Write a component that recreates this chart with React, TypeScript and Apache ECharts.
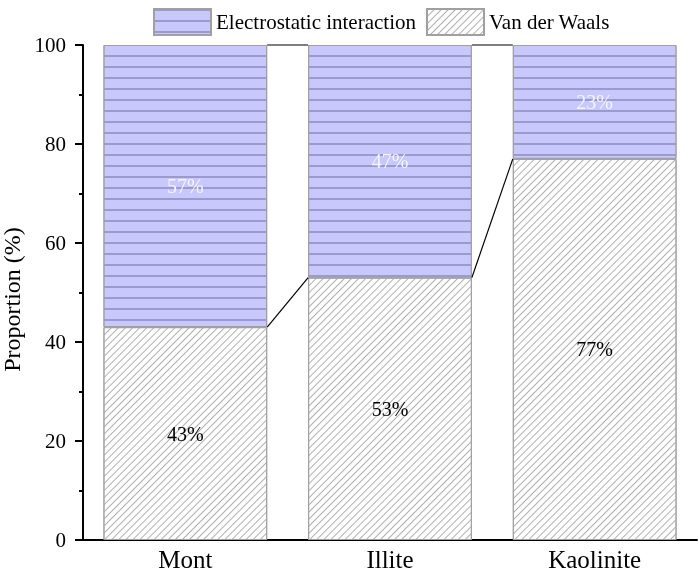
import React, { useEffect, useRef } from "react";
import * as echarts from "echarts";

const categories = ["Mont", "Illite", "Kaolinite"];
const vanDerWaals = [43, 53, 77];
const electrostatic = [57, 47, 23];
const seriesNames = ["Electrostatic interaction", "Van der Waals"];

const FONT = "'Liberation Serif', 'Times New Roman', serif";

export default function App() {
  const ref = useRef<HTMLDivElement>(null);
  useEffect(() => {
    document.body.style.margin = "0";
    const chart = echarts.init(ref.current!, null, { renderer: "svg" });
    const totals = vanDerWaals.map((v, i) => v + electrostatic[i]);
    const levels = [vanDerWaals, totals];
    const connectData: number[][] = [];
    levels.forEach((lv) => {
      for (let i = 0; i < lv.length - 1; i++) connectData.push([i, lv[i], lv[i + 1]]);
    });
    const option: any = {
      animation: false,
      textStyle: { fontFamily: FONT },
      grid: { left: 83, right: 2, top: 45, bottom: 33, outerBoundsMode: "none", containLabel: false },
      legend: {
        data: seriesNames,
        left: 148,
        top: 3,
        icon: "rect",
        itemWidth: 57,
        itemHeight: 26,
        itemGap: 10,
        textStyle: { fontFamily: FONT, fontSize: 21, color: "#000" },
      },
      xAxis: {
        type: "category",
        data: categories,
        axisLine: { lineStyle: { color: "#000", width: 2 } },
        axisTick: { show: false },
        axisLabel: { fontFamily: FONT, fontSize: 25, color: "#000", margin: 7 },
      },
      yAxis: {
        type: "value",
        min: 0,
        max: 100,
        interval: 20,
        name: "Proportion (%)",
        nameLocation: "middle",
        nameGap: 54,
        nameTextStyle: { fontFamily: FONT, fontSize: 24, color: "#000", padding: [0, 14, 0, 0] },
        axisLine: { show: true, lineStyle: { color: "#000", width: 2 } },
        axisTick: { show: true, length: 8, lineStyle: { color: "#000", width: 2 } },
        minorTick: { show: true, splitNumber: 2, length: 4, lineStyle: { color: "#000", width: 2 } },
        splitLine: { show: false },
        axisLabel: { fontFamily: FONT, fontSize: 21, color: "#000", margin: 17 },
      },
      series: [
        {
          name: "Van der Waals",
          type: "bar",
          stack: "total",
          barCategoryGap: "20%",
          data: vanDerWaals,
          itemStyle: {
            color: "#ffffff",
            borderColor: "#a0a0a0",
            borderWidth: 1,
            decal: {
              symbol: "rect",
              color: "#b0b0b0",
              dashArrayX: [1, 0],
              dashArrayY: [1, 4],
              rotation: -Math.PI / 4,
            },
          },
          label: {
            show: true,
            position: "inside",
            formatter: "{c}%",
            fontFamily: FONT,
            fontSize: 20,
            color: "#000",
          },
        },
        {
          name: "Electrostatic interaction",
          type: "bar",
          stack: "total",
          barCategoryGap: "20%",
          data: electrostatic,
          itemStyle: {
            color: "#c8c8fc",
            borderColor: "#a0a0a0",
            borderWidth: 1,
            decal: {
              symbol: "rect",
              color: "#9a9acc",
              dashArrayX: [1, 0],
              dashArrayY: [1.2, 8.8],
              rotation: 0,
            },
          },
          label: {
            show: true,
            position: "inside",
            formatter: "{c}%",
            fontFamily: FONT,
            fontSize: 20,
            color: "#f4f4ff",
          },
        },
        {
          type: "custom",
          name: "connect",
          silent: true,
          data: connectData,
          encode: { x: 0, y: [1, 2] },
          renderItem: (params: any, api: any) => {
            const i = api.value(0);
            const a = api.coord([i, api.value(1)]);
            const b = api.coord([i + 1, api.value(2)]);
            const half = (api.size([1, 0])[0] * 0.8) / 2;
            return {
              type: "line",
              shape: { x1: a[0] + half, y1: a[1], x2: b[0] - half, y2: b[1] },
              style: { stroke: "#000", lineWidth: 1.2 },
            };
          },
          z: 5,
        },
      ],
    };
    chart.setOption(option);
    return () => chart.dispose();
  }, []);
  return (
    <div
      ref={ref}
      style={{ position: "fixed", left: 0, top: 0, width: 699, height: 573 }}
    />
  );
}
